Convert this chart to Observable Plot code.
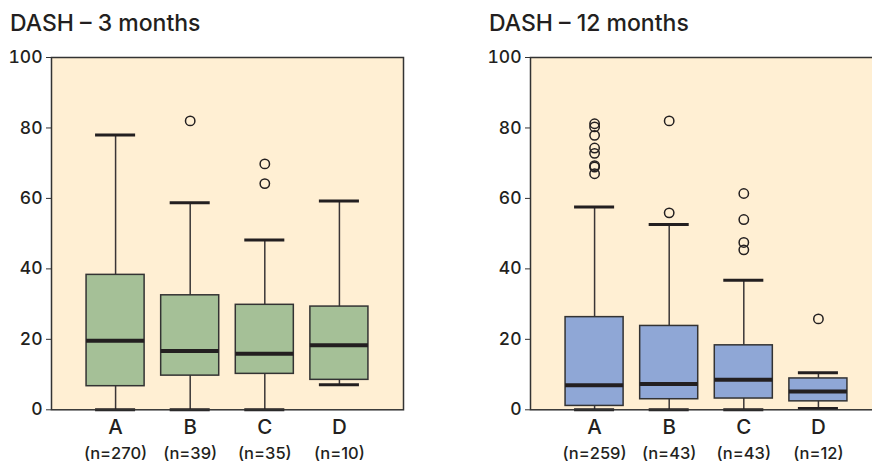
<!DOCTYPE html>
<html>
<head>
<meta charset="utf-8">
<script src="https://cdn.jsdelivr.net/npm/d3@7"></script>
<script src="https://cdn.jsdelivr.net/npm/@observablehq/plot@0.6"></script>
<style>
  html, body { margin: 0; padding: 0; background: #fff; }
  body { width: 872px; height: 468px; overflow: hidden; position: relative; font-family: Inter, "DejaVu Sans", sans-serif; }
  .title { position: absolute; top: 12px; font-size: 23px; line-height: 23px; font-weight: 500; color: #231f20; white-space: nowrap; }
  .panel { position: absolute; top: 45px; width: 440px; }
  .panel svg { max-width: none !important; display: block; }
</style>
</head>
<body>
<div class="title" style="left:10px">DASH – 3 months</div>
<div class="title" style="left:489px">DASH – 12 months</div>
<div class="panel" id="p1" style="left:0px"></div>
<div class="panel" id="p2" style="left:479px"></div>
<script>
const categories = ["A", "B", "C", "D"];
const yTicks = [0, 20, 40, 60, 80, 100];

// 3 months
const n3 = [270, 39, 35, 10];
const low3 = [0, 0, 0, 7.1];
const q1_3 = [6.7, 9.7, 10.2, 8.5];
const median3 = [19.6, 16.7, 15.9, 18.3];
const q3_3 = [38.3, 32.5, 29.8, 29.3];
const high3 = [78.0, 58.8, 48.2, 59.3];
const outlierCat3 = ["B", "C", "C"];
const outlierVal3 = [82.0, 69.8, 64.2];

// 12 months
const n12 = [259, 43, 43, 12];
const low12 = [0, 0, 0, 0.4];
const q1_12 = [1.1, 3.0, 3.2, 2.4];
const median12 = [7.0, 7.3, 8.5, 5.2];
const q3_12 = [26.3, 23.8, 18.3, 8.9];
const high12 = [57.6, 52.6, 36.8, 10.5];
const outlierCat12 = ["A", "A", "A", "A", "A", "A", "A", "A", "B", "B", "C", "C", "C", "C", "D"];
const outlierVal12 = [81.2, 80.3, 77.9, 74.3, 72.8, 69.3, 68.9, 67.0, 82.0, 55.9, 61.4, 54.0, 47.5, 45.4, 25.8];

const ink = "#231f20";
const bg = "#ffefd3";
const font = "Inter, DejaVu Sans, sans-serif";

function panel(n, low, q1, med, q3, high, oCat, oVal, fill) {
  const rows = categories.map((c, i) => ({cat: c, n: n[i], low: low[i], q1: q1[i], med: med[i], q3: q3[i], high: high[i]}));
  const outliers = oCat.map((c, i) => ({cat: c, v: oVal[i]}));
  return Plot.plot({
    width: 440,
    height: 423,
    marginLeft: 51,
    marginRight: 37,
    marginTop: 12,
    marginBottom: 58.7,
    style: {fontFamily: font, fontSize: "16px", fontWeight: 500, color: ink, background: "transparent", overflow: "visible"},
    x: {type: "band", domain: categories, paddingInner: 0.222, paddingOuter: 0.47, round: false, axis: null},
    y: {domain: [0, 100], ticks: yTicks, axis: null},
    marks: [
      Plot.frame({fill: bg}),
      Plot.ruleX(rows, {x: "cat", y1: "low", y2: "high", stroke: "#3a3536", strokeWidth: 1.5}),
      Plot.tickY(rows, {x: "cat", y: "high", insetLeft: 9, insetRight: 9, stroke: ink, strokeWidth: 3}),
      Plot.tickY(rows, {x: "cat", y: "low", insetLeft: 9, insetRight: 9, stroke: ink, strokeWidth: 3}),
      Plot.barY(rows, {x: "cat", y1: "q1", y2: "q3", fill: fill, stroke: "#333", strokeWidth: 1.5}),
      Plot.tickY(rows, {x: "cat", y: "med", stroke: ink, strokeWidth: 4}),
      Plot.dot(outliers, {x: "cat", y: "v", r: 4.7, fill: "none", stroke: ink, strokeWidth: 1.5}),
      Plot.frame({stroke: "#333", strokeWidth: 1.5}),
      Plot.axisY({ticks: yTicks, tickSize: 5, tickPadding: 4, stroke: "#333", fill: ink, fontSize: 17.5}),
      Plot.text(rows, {x: "cat", frameAnchor: "bottom", dy: 24, text: "cat", fontSize: 20.5, fill: ink}),
      Plot.text(rows, {x: "cat", frameAnchor: "bottom", dy: 49, text: d => `(n=${d.n})`, fontSize: 16.5, fill: ink})
    ]
  });
}

document.getElementById("p1").append(panel(n3, low3, q1_3, median3, q3_3, high3, outlierCat3, outlierVal3, "#a5c097"));
document.getElementById("p2").append(panel(n12, low12, q1_12, median12, q3_12, high12, outlierCat12, outlierVal12, "#8fa7d6"));
</script>
</body>
</html>
